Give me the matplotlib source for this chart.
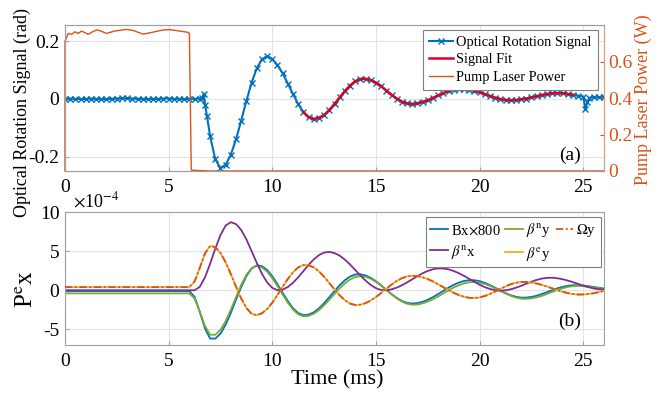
import numpy as np
import matplotlib
matplotlib.use('Agg')
import matplotlib.pyplot as plt

plt.rcParams['font.family'] = ['Liberation Serif', 'DejaVu Serif']
plt.rcParams['mathtext.fontset'] = 'stix'
plt.rcParams['axes.unicode_minus'] = False

# ---------------- data: panel (a) ----------------
sig_t = np.concatenate([np.arange(0, 6.51, 0.25), [6.6, 6.7, 6.75, 6.85],
                        np.arange(7.0, 25.01, 0.25), [25.1, 25.2, 25.3],
                        np.arange(25.5, 26.01, 0.25)])
sig_v = [0.0, 0.001, 0.0, -0.001, 0.0, 0.001, 0.0, 0.0, -0.001, 0.0, 0.001, 0.002, 0.002,
         0.001, 0.0, 0.0, -0.001, 0.0, 0.0, 0.001, 0.001, 0.0, 0.0, -0.001, 0.0, 0.0, 0.001,
         0.002, 0.018, -0.02, -0.06,
         -0.13, -0.21, -0.24, -0.228,
         -0.193, -0.140, -0.075, -0.007,
         0.056, 0.106, 0.137, 0.147,
         0.138, 0.117, 0.088, 0.053,
         0.016, -0.018, -0.046, -0.064,
         -0.070, -0.066, -0.056, -0.039,
         -0.018, 0.005, 0.027, 0.046,
         0.061, 0.069, 0.069, 0.065,
         0.056, 0.044, 0.029, 0.014,
         0.001, -0.010, -0.016, -0.018,
         -0.016, -0.011, -0.005, 0.003,
         0.012, 0.020, 0.027, 0.032,
         0.035, 0.035, 0.032, 0.028,
         0.023, 0.016, 0.010, 0.004,
         -0.001, -0.004, -0.005, -0.004,
         -0.002, 0.001, 0.005, 0.009,
         0.013, 0.017, 0.019, 0.020,
         0.019, 0.017, 0.014, 0.011,
         0.008,
         -0.035, -0.012, 0.004,
         0.005, 0.006, 0.006]
sig_v = np.array(sig_v)
fit_start, fit_end = 11.5, 24.5

pump_t = [0, 0, 0.16, 0.32, 0.48, 0.64, 0.80, 0.96, 1.12, 1.28, 1.52, 1.68, 2.0, 2.4,
          2.96, 3.29, 3.77, 4.25, 4.73, 5.05, 5.53, 5.93, 6.0, 6.09, 6.5, 7.0, 26]
pump_v = [0, 0.712, 0.754, 0.749, 0.763, 0.754, 0.767, 0.758, 0.749, 0.760, 0.773, 0.769,
          0.754, 0.767, 0.776, 0.770, 0.750, 0.761, 0.773, 0.775, 0.767, 0.760, 0.754,
          0.005, 0.002, 0.0, 0.0]

# ---------------- data: panel (b) (units of 1e-4) ----------------
tb = np.concatenate([[0.0, 2.0, 4.0, 5.75], np.arange(6.0, 26.001, 0.25)])
bx800 = [-0.1, -0.1, -0.1, -0.1,
         -0.1, -0.86, -2.76, -4.88,
         -6.18, -6.19, -5.54, -4.40,
         -2.89, -1.21, 0.42, 1.81,
         2.77, 3.19, 3.08, 2.59,
         1.79, 0.77, -0.34, -1.40,
         -2.30, -2.92, -3.19, -3.12,
         -2.82, -2.32, -1.65, -0.89,
         -0.10, 0.65, 1.28, 1.75,
         2.01, 2.04, 1.89, 1.58,
         1.15, 0.62, 0.06, -0.49,
         -0.98, -1.37, -1.62, -1.70,
         -1.64, -1.48, -1.22, -0.88,
         -0.49, -0.08, 0.33, 0.69,
         0.98, 1.19, 1.29, 1.28,
         1.16, 0.95, 0.65, 0.32,
         -0.04, -0.37, -0.64, -0.84,
         -0.94, -0.94, -0.85, -0.70,
         -0.49, -0.25, 0.0, 0.24,
         0.43, 0.57, 0.64, 0.64,
         0.60, 0.52, 0.42, 0.32,
         0.22]
beta_n_y = [-0.4, -0.4, -0.4, -0.4,
            -0.4, -1.06, -2.72, -4.56,
            -5.69, -5.69, -5.06, -3.94,
            -2.48, -0.86, 0.69, 1.97,
            2.81, 3.10, 2.91, 2.38,
            1.55, 0.53, -0.56, -1.61,
            -2.48, -3.08, -3.34, -3.28,
            -3.01, -2.54, -1.93, -1.22,
            -0.48, 0.24, 0.88, 1.37,
            1.69, 1.80, 1.71, 1.46,
            1.07, 0.58, 0.03, -0.53,
            -1.03, -1.45, -1.73, -1.85,
            -1.82, -1.68, -1.45, -1.15,
            -0.79, -0.40, -0.01, 0.35,
            0.65, 0.88, 1.02, 1.05,
            0.97, 0.80, 0.55, 0.24,
            -0.09, -0.42, -0.71, -0.93,
            -1.07, -1.10, -1.04, -0.91,
            -0.72, -0.48, -0.22, 0.03,
            0.25, 0.42, 0.52, 0.55,
            0.52, 0.45, 0.36, 0.26,
            0.16]
omega_y = [0.4, 0.4, 0.4, 0.4,
           0.4, 1.11, 2.85, 4.70,
           5.67, 5.51, 4.77, 3.56,
           2.06, 0.44, -1.06, -2.27,
           -3.01, -3.19, -2.95, -2.40,
           -1.59, -0.60, 0.45, 1.45,
           2.31, 2.92, 3.22, 3.20,
           2.92, 2.41, 1.72, 0.92,
           0.10, -0.66, -1.28, -1.71,
           -1.89, -1.85, -1.65, -1.31,
           -0.87, -0.35, 0.19, 0.72,
           1.18, 1.54, 1.77, 1.85,
           1.80, 1.65, 1.42, 1.12,
           0.76, 0.39, 0.01, -0.33,
           -0.62, -0.84, -0.97, -1.00,
           -0.92, -0.74, -0.48, -0.17,
           0.17, 0.49, 0.77, 0.96,
           1.06, 1.06, 0.99, 0.86,
           0.68, 0.47, 0.24, 0.01,
           -0.20, -0.37, -0.49, -0.55,
           -0.54, -0.48, -0.38, -0.24,
           -0.08]
beta_e_y = list(omega_y)
beta_n_x = [0.0, 0.0, 0.0, 0.0,
            0.0, 0.0, 0.43, 1.64,
            3.38, 5.32, 7.06, 8.27,
            8.70, 8.45, 7.70, 6.50,
            5.00, 3.50, 2.10, 1.00,
            0.30, 0.00, 0.08, 0.41,
            0.96, 1.66, 2.45, 3.24,
            3.94, 4.49, 4.82, 4.90,
            4.75, 4.42, 3.91, 3.29,
            2.59, 1.88, 1.23, 0.67,
            0.26, 0.03, 0.01, 0.11,
            0.33, 0.63, 1.00, 1.40,
            1.80, 2.17, 2.47, 2.69,
            2.79, 2.78, 2.67, 2.46,
            2.17, 1.83, 1.45, 1.07,
            0.71, 0.39, 0.16, 0.00,
            -0.05, -0.01, 0.12, 0.32,
            0.56, 0.83, 1.09, 1.32,
            1.49, 1.58, 1.60, 1.53,
            1.41, 1.24, 1.03, 0.81,
            0.58, 0.39, 0.23, 0.13,
            0.10]

xticks = [0, 5, 10, 15, 20, 25]

C_BLUE = '#0072BD'
C_ORANGE = '#D95319'
C_YELLOW = '#EDB120'
C_PURPLE = '#7E2F8E'
C_GREEN = '#77AC30'
C_RED = '#E3001B'
SPINE = '#A0A0A0'
GRID = '#E3E3E3'

fig = plt.figure(figsize=(6.62, 3.94), dpi=100)
ax = fig.add_axes([0.0982, 0.566, 0.8142, 0.3705])
ax2 = ax.twinx()
axb = fig.add_axes([0.0982, 0.1244, 0.8142, 0.3375])

# ---------- panel (a) ----------
l1, = ax.plot(sig_t, sig_v, '-x', color=C_BLUE, lw=1.5, ms=4, mew=1.0,
              label='Optical Rotation Signal', zorder=3)
fm = (sig_t >= fit_start) & (sig_t <= fit_end)
l2, = ax.plot(sig_t[fm], sig_v[fm], '-', color=C_RED, lw=1.8, label='Signal Fit', zorder=4)
l3, = ax2.plot(pump_t, pump_v, '-', color=C_ORANGE, lw=1.0, label='Pump Laser Power',
               clip_on=False)
ax.set_xlim(0, 26)
ax.set_ylim(-0.25, 0.256)
ax.set_yticks([-0.2, 0, 0.2])
ax.set_yticklabels(['-0.2', '0', '0.2'])
ax.set_xticks(xticks)
ax2.set_ylim(0, 0.8)
ax2.set_yticks([0, 0.2, 0.4, 0.6])
ax2.set_yticklabels(['0', '0.2', '0.4', '0.6'])
ax.grid(True, color=GRID, lw=0.8)
ax.set_axisbelow(True)
for a in (ax, ax2):
    for s in a.spines.values():
        s.set_color(SPINE)
        s.set_linewidth(0.8)
ax2.spines['right'].set_color('#E0A070')
ax.tick_params(direction='in', length=3, labelsize=14, color=SPINE, pad=4)
ax.tick_params(axis='x', pad=6)
ax2.tick_params(direction='in', length=3, labelsize=14, colors=C_ORANGE, pad=3)
ax.set_ylabel('Optical Rotation Signal (rad)', fontsize=13)
ax.yaxis.set_label_coords(-0.064, 0.40)
ax2.set_ylabel('Pump Laser Power (W)', fontsize=13, color=C_ORANGE)
ax2.yaxis.set_label_coords(1.056, 0.49)
leg = ax2.legend(handles=[l1, l2, l3], loc='upper right', bbox_to_anchor=(0.988, 0.966),
                 fontsize=10.4, frameon=True, fancybox=False, edgecolor='#808080',
                 framealpha=1, borderaxespad=0, handlelength=1.7, handletextpad=0.2,
                 borderpad=0.4, labelspacing=0.3)
leg.get_frame().set_linewidth(0.8)
ax2.text(0.957, 0.11, '(a)', transform=ax.transAxes, ha='right', va='center', fontsize=14)

# ---------- panel (b) ----------
hb, = axb.plot(tb, bx800, color=C_BLUE, lw=1.3, label=r'Bx$\times$800')
hg, = axb.plot(tb, beta_n_y, color=C_GREEN, lw=1.3, label=r'$\beta^{\rm n}$y')
hy, = axb.plot(tb, beta_e_y, color=C_YELLOW, lw=1.3, label=r'$\beta^{\rm e}$y', zorder=3)
ho, = axb.plot(tb, omega_y, color=C_ORANGE, lw=1.3, ls=(0, (4, 1.5, 1, 1.5)),
               label=r'$\Omega$y', zorder=4)
hp, = axb.plot(tb, beta_n_x, color=C_PURPLE, lw=1.3, label=r'$\beta^{\rm n}$x', zorder=2.5)
axb.set_xlim(0, 26)
axb.set_ylim(-7, 10)
axb.set_yticks([-5, 0, 5, 10])
axb.set_yticklabels(['-5', '0', '5', '10'])
axb.set_xticks(xticks)
axb.grid(True, color=GRID, lw=0.8)
axb.set_axisbelow(True)
for s in axb.spines.values():
    s.set_color(SPINE)
    s.set_linewidth(0.8)
axb.tick_params(direction='in', length=3, labelsize=14, color=SPINE, pad=4)
axb.tick_params(axis='x', pad=6)
axb.set_xlabel('Time (ms)', fontsize=16)
axb.xaxis.set_label_coords(0.505, -0.19)
axb.set_ylabel(r'P$^{\rm e}$x', fontsize=18)
axb.yaxis.set_label_coords(-0.05, 0.42)
axb.text(0.014, 1.01, r'$\times$10$^{-4}$', transform=axb.transAxes, ha='left',
         va='bottom', fontsize=13)
legb = axb.legend(handles=[hb, hp, hg, hy, ho], ncol=3, loc='upper right',
                  bbox_to_anchor=(0.994, 0.962), fontsize=10.5, frameon=True, fancybox=False,
                  edgecolor='#808080', framealpha=1, borderaxespad=0, handlelength=1.2,
                  handletextpad=0.2, borderpad=0.3, labelspacing=0.35, columnspacing=0.35)
legb.get_frame().set_linewidth(0.8)
axb.text(0.957, 0.177, '(b)', transform=axb.transAxes, ha='right', va='center', fontsize=14)

fig.savefig('out.png', dpi=100)
